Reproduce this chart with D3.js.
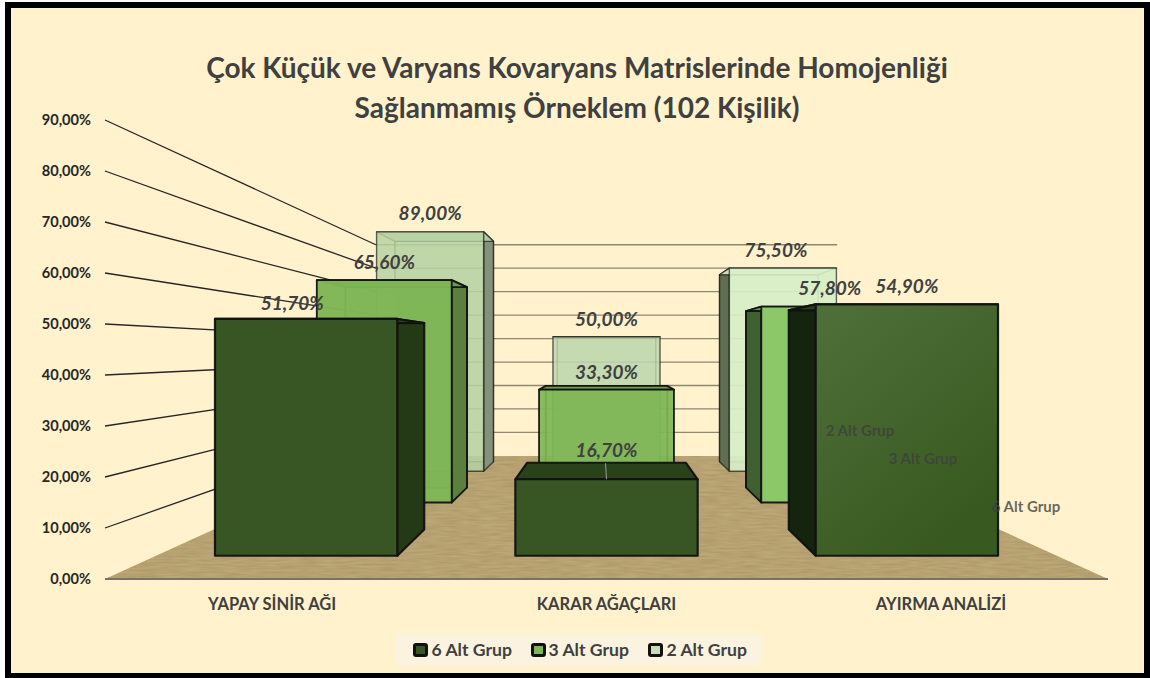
<!DOCTYPE html>
<html><head><meta charset="utf-8">
<script src="https://cdn.jsdelivr.net/npm/d3@7"></script>
<style>html,body{margin:0;padding:0;background:#fff}svg{display:block}text{font-family:Lato,"Open Sans",sans-serif}</style>
</head><body><div id="c"></div>
<script>
const categories = ["YAPAY SİNİR AĞI","KARAR AĞAÇLARI","AYIRMA ANALİZİ"];
const seriesNames = ["6 Alt Grup","3 Alt Grup","2 Alt Grup"];
const values6 = [51.7,16.7,54.9];
const values3 = [65.6,33.3,57.8];
const values2 = [89.0,50.0,75.5];
const yTicks = [0,10,20,30,40,50,60,70,80,90];
const titleLines = ["Çok Küçük ve Varyans Kovaryans Matrislerinde Homojenliği","Sağlanmamış Örneklem (102 Kişilik)"];
const seriesValues = [values6,values3,values2];

const W=1150,H=678;
const svg=d3.select("#c").append("svg").attr("width",W).attr("height",H);
const defs=svg.append("defs");
const ft=defs.append("filter").attr("id","paper").attr("x",0).attr("y",0).attr("width",1).attr("height",1);
ft.append("feTurbulence").attr("type","fractalNoise").attr("baseFrequency","0.05 0.5").attr("numOctaves",2).attr("seed",4);
ft.append("feColorMatrix").attr("values","0 0 0 0 0.45  0 0 0 0 0.35  0 0 0 0 0.18  0.5 0 0 0 -0.12");
ft.append("feComposite").attr("in2","SourceGraphic").attr("operator","in");
ft.append("feBlend").attr("in2","SourceGraphic").attr("mode","multiply");
const grad=defs.append("linearGradient").attr("id","g6").attr("x1",0).attr("y1",0).attr("x2",.6).attr("y2",1);
grad.append("stop").attr("offset",0).attr("stop-color","#4f7039");
grad.append("stop").attr("offset",1).attr("stop-color","#38591f");

svg.append("rect").attr("x",8).attr("y",5).attr("width",1139).attr("height",671).attr("fill","#fff2cc").attr("stroke","#000").attr("stroke-width",6);

const x=d3.scaleBand().domain(categories).range([105,1108]).paddingInner(0.393).paddingOuter(0.196);
const y=d3.scaleLinear().domain([0,90]).range([579,120]);
const depth=d3.scaleBand().domain(seriesNames).range([0,1]).paddingInner(0.58).paddingOuter(0.29);
const vx=606.5,vy=351,k=1.174;
const P=(X,v,d)=>{const s=1/(1+k*d);return [vx+(X-vx)*s, vy+(y(v)-vy)*s];};
const poly=pts=>"M"+pts.map(p=>p.join(",")).join("L")+"Z";

// floor
const xL=105,xR=1108;
svg.append("path").attr("d",poly([P(xL,0,0),P(xR,0,0),P(xR,0,1),P(xL,0,1)])).attr("fill","#bda878").attr("filter","url(#paper)");
// walls
const grid=svg.append("g");
yTicks.slice(1).forEach(t=>{
  const a=P(xL,t,0),b=P(xL,t,1),c=P(xR,t,1);
  grid.append("path").attr("d",`M${a}L${b}`).attr("fill","none").attr("stroke","#262626").attr("stroke-width",1.3);
  grid.append("path").attr("d",`M${b}L${c}`).attr("fill","none").attr("stroke","#8f8672").attr("stroke-width",1.3);
});
svg.append("path").attr("d",`M${P(xL,0,0)}L${P(xR,0,0)}`).attr("stroke","#77736a").attr("stroke-width",2);

// tick labels
svg.append("g").selectAll("text").data(yTicks).join("text")
  .attr("x",91).attr("y",t=>y(t)+5).attr("text-anchor","end").attr("font-size",14.6).attr("font-weight",700).attr("fill","#262626")
  .text(t=>d3.format(".2f")(t).replace(".",",")+"%");
// category labels
svg.append("g").selectAll("text").data(categories).join("text")
  .attr("x",c=>x(c)+x.bandwidth()/2).attr("y",610).attr("text-anchor","middle").attr("font-size",16.5).attr("font-weight",700).attr("fill","#404040").text(c=>c);
// title
svg.append("g").selectAll("text").data(titleLines).join("text")
  .attr("x",577).attr("y",(d,i)=>78+i*40).attr("text-anchor","middle").attr("font-size",28).attr("font-weight",700).attr("fill","#404040").text(d=>d);

const styles={
 "6 Alt Grup":[{f:"#375623",s:"#243a16",t:"#2a4219",o:1},{f:"#375623",s:"#243a16",t:"#2a4219",o:1},{f:"url(#g6)",s:"#14240f",t:"#2a4219",o:1}],
 "3 Alt Grup":[{f:"#7fb655",s:"#5a7f3e",t:"#6a9c47",o:.97},{f:"#7fb655",s:"#5a7f3e",t:"#6a9c47",o:.92},{f:"#8cc768",s:"#3f6031",t:"#6a9c47",o:1}],
 "2 Alt Grup":[{f:"#b5d2a2",s:"#85917a",t:"#bcd4a8",o:.82},{f:"#bcd7ad",s:"#85917a",t:"#bcd4a8",o:.82},{f:"#d7eec7",s:"#5f6f55",t:"#d7eec7",o:.9}]
};

// value-label nudges from the bar's front-top centre
const nudge={
 "6 Alt Grup":[[-14,-9],[0,-22],[0,-11]],
 "3 Alt Grup":[[0,-11],[0,-11],[1,-12]],
 "2 Alt Grup":[[0,-12],[0,-11],[-7,-11]]
};
const barsG=svg.append("g"), labelsG=svg.append("g");

[2,1,0].forEach(si=>{
  const name=seriesNames[si];
  const d0=depth(name),d1=d0+depth.bandwidth();
  categories.forEach((c,ci)=>{
    const v=seriesValues[si][ci], st=styles[name][ci];
    const xa=x(c),xb=xa+x.bandwidth();
    const g=barsG.append("g");
    const sw=si===0?2.2:si===1?1.8:1.4;
    const face=(pts,fill,op)=>g.append("path").attr("d",poly(pts)).attr("fill",fill).attr("fill-opacity",op)
      .attr("stroke","#111").attr("stroke-opacity",si===2?.65:.95).attr("stroke-width",sw).attr("stroke-linejoin","round");
    const A=(X,val,d)=>P(X,val,d);
    if(si!==0) face([A(xa,0,d1),A(xb,0,d1),A(xb,v,d1),A(xa,v,d1)],st.f,st.o*.35);
    if(xa>vx) face([A(xa,0,d0),A(xa,0,d1),A(xa,v,d1),A(xa,v,d0)],st.s,1);
    if(xb<vx) face([A(xb,0,d0),A(xb,0,d1),A(xb,v,d1),A(xb,v,d0)],st.s,1);
    face([A(xa,v,d0),A(xb,v,d0),A(xb,v,d1),A(xa,v,d1)],st.t,st.o);
    face([A(xa,0,d0),A(xb,0,d0),A(xb,v,d0),A(xa,v,d0)],st.f,st.o);
    const tp=A((xa+xb)/2,v,d0), n=nudge[name][ci];
    labelsG.append("text").attr("x",tp[0]+n[0]).attr("y",tp[1]+n[1]).attr("text-anchor","middle")
      .attr("font-size",19).attr("font-weight",700).attr("font-style","italic").attr("fill","#404040")
      .text(d3.format(".2f")(v).replace(".",",")+"%");
    if(si===0&&ci===1){
      labelsG.append("path").attr("d",`M${tp[0]-1},${tp[1]-16}L${tp[0]},${tp[1]}`).attr("stroke","#9a9a9a").attr("stroke-width",1);
    }
  });
});

// depth-axis series labels
const depthLabelPos=[[1026,512],[923,464],[860,436]];
svg.append("g").selectAll("text").data(seriesNames).join("text")
  .attr("x",(d,i)=>depthLabelPos[i][0]).attr("y",(d,i)=>depthLabelPos[i][1]).attr("text-anchor","middle")
  .attr("font-size",15).attr("font-weight",700).attr("fill","#3f3f3f").attr("fill-opacity",.8).text(d=>d);

// legend
const lg=svg.append("g");
lg.append("rect").attr("x",395).attr("y",634).attr("width",367).attr("height",31).attr("fill","#fbf3df");
const legendX=[414,532,649];
const textX=[431.5,548.5,666.5];
const swatch=[styles["6 Alt Grup"][0].f,styles["3 Alt Grup"][0].f,"#c5dcb5"];
seriesNames.forEach((n,i)=>{
  lg.append("rect").attr("x",legendX[i]+.5).attr("y",644.5).attr("width",12).attr("height",11).attr("rx",1.5).attr("fill",swatch[i]).attr("stroke","#111").attr("stroke-width",3);
  lg.append("text").attr("x",textX[i]).attr("y",656).attr("font-size",17.6).attr("font-weight",700).attr("fill","#404040").text(n);
});
</script></body></html>
